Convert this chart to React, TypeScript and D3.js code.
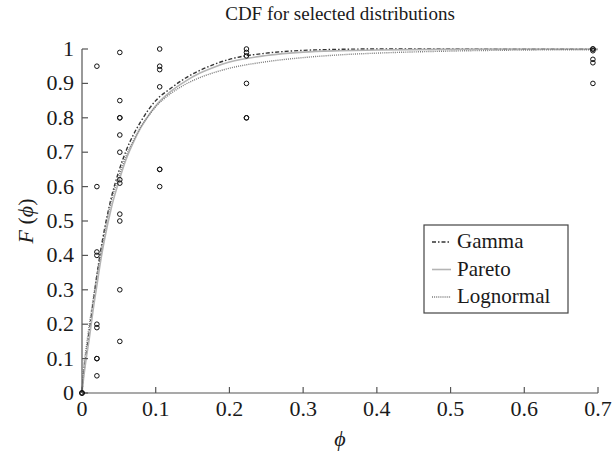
import { useEffect, useRef } from "react";
import * as d3 from "d3";

const W = 614, H = 453;
const M = { left: 82, right: 16, top: 49, bottom: 60 };

const X_TICKS = [0, 0.1, 0.2, 0.3, 0.4, 0.5, 0.6, 0.7];
const Y_TICKS = [0, 0.1, 0.2, 0.3, 0.4, 0.5, 0.6, 0.7, 0.8, 0.9, 1];

// observed points (phi, F)
const OBS_X = [0, 0.0202, 0.0513, 0.1054, 0.2231, 0.6931];
const OBS_Y = [
  [0, 0, 0],
  [0.95, 0.6, 0.41, 0.4, 0.2, 0.19, 0.1, 0.1, 0.05],
  [0.99, 0.85, 0.8, 0.8, 0.75, 0.7, 0.62, 0.61, 0.52, 0.5, 0.3, 0.15],
  [1.0, 0.95, 0.94, 0.89, 0.65, 0.65, 0.6],
  [1.0, 0.99, 0.98, 0.9, 0.8, 0.8],
  [1.0, 1.0, 0.995, 0.97, 0.96, 0.9],
];

// fitted CDFs
const GRID = [0, 0.002, 0.005, 0.01, 0.015, 0.02, 0.025, 0.03, 0.04, 0.05, 0.06, 0.07, 0.08, 0.09, 0.1, 0.12, 0.14, 0.16, 0.18, 0.2, 0.25, 0.3, 0.35, 0.4, 0.5, 0.6, 0.7];
const GAMMA = [0, 0.05, 0.1, 0.18, 0.26, 0.34, 0.41, 0.47, 0.57, 0.645, 0.705, 0.752, 0.79, 0.823, 0.85, 0.885, 0.915, 0.938, 0.956, 0.97, 0.988, 0.996, 0.999, 1, 1, 1, 1];
const PARETO = [0, 0.04, 0.09, 0.16, 0.24, 0.31, 0.38, 0.44, 0.54, 0.615, 0.68, 0.73, 0.772, 0.806, 0.835, 0.876, 0.906, 0.93, 0.948, 0.962, 0.981, 0.991, 0.995, 0.997, 0.999, 1, 1];
const LOGNORMAL = [0, 0.07, 0.12, 0.2, 0.27, 0.34, 0.4, 0.46, 0.56, 0.63, 0.69, 0.735, 0.775, 0.805, 0.832, 0.87, 0.897, 0.917, 0.932, 0.944, 0.963, 0.975, 0.983, 0.988, 0.994, 0.997, 0.998];

const SERIES = [
  { name: "Gamma", values: GAMMA, color: "#333", dash: "4,2,1.5,2", width: 1.4 },
  { name: "Pareto", values: PARETO, color: "#b4b4b4", dash: "", width: 1.6 },
  { name: "Lognormal", values: LOGNORMAL, color: "#7a7a7a", dash: "1,1.1", width: 1.4 },
];

const FONT = "Liberation Serif, Times New Roman, DejaVu Serif, serif";

export default function App() {
  const ref = useRef<SVGSVGElement>(null);
  useEffect(() => {
    const el = ref.current;
    if (!el) return;
    const svg = d3.select(el);
    svg.selectAll("*").remove();
    const x = d3.scaleLinear().domain([0, 0.7]).range([M.left, W - M.right]);
    const y = d3.scaleLinear().domain([0, 1]).range([H - M.bottom, M.top]);
    const axisColor = "#555";
    const txt = (sel: d3.Selection<SVGTextElement, unknown, null, undefined>, size: number) =>
      sel.style("font-family", FONT).style("font-size", `${size}px`).attr("fill", "#1a1a1a");

    // curves
    SERIES.forEach((s) => {
      const line = d3.line<number>().x((_d, i) => x(GRID[i])).y((d) => y(d)).curve(d3.curveMonotoneX);
      svg.append("path").attr("d", line(s.values)).attr("fill", "none").attr("stroke", s.color)
        .attr("stroke-width", s.width).attr("stroke-dasharray", s.dash || null);
    });

    // axes
    svg.append("line").attr("x1", x(0)).attr("x2", x(0.7)).attr("y1", y(0)).attr("y2", y(0)).attr("stroke", axisColor).attr("stroke-width", 1.2);
    svg.append("line").attr("x1", x(0)).attr("x2", x(0)).attr("y1", y(0)).attr("y2", y(1)).attr("stroke", axisColor).attr("stroke-width", 1.2);
    X_TICKS.forEach((t) => {
      svg.append("line").attr("x1", x(t)).attr("x2", x(t)).attr("y1", y(0)).attr("y2", y(0) - 6).attr("stroke", axisColor).attr("stroke-width", 1.2);
      txt(svg.append("text").attr("x", x(t)).attr("y", y(0) + 23).attr("text-anchor", "middle"), 22).text(String(t));
    });
    Y_TICKS.forEach((t) => {
      svg.append("line").attr("x1", x(0)).attr("x2", x(0) + 6).attr("y1", y(t)).attr("y2", y(t)).attr("stroke", axisColor).attr("stroke-width", 1.2);
      txt(svg.append("text").attr("x", x(0) - 8).attr("y", y(t) + 7).attr("text-anchor", "end"), 22).text(String(t));
    });

    // observations
    OBS_X.forEach((px, i) => {
      OBS_Y[i].forEach((py) => {
        svg.append("circle").attr("cx", x(px)).attr("cy", y(py)).attr("r", 2.3).attr("fill", "none").attr("stroke", "#111").attr("stroke-width", 1);
      });
    });

    // title and labels
    txt(svg.append("text").attr("x", (x(0) + x(0.7)) / 2).attr("y", 20).attr("text-anchor", "middle"), 19).text("CDF for selected distributions");
    txt(svg.append("text").attr("x", (x(0) + x(0.7)) / 2).attr("y", 446).attr("text-anchor", "middle").style("font-style", "italic"), 22).text("ϕ");
    const yl = txt(svg.append("text").attr("transform", `translate(33,${(y(0) + y(1)) / 2}) rotate(-90)`).attr("text-anchor", "middle"), 22);
    yl.append("tspan").style("font-style", "italic").text("F");
    yl.append("tspan").text(" (");
    yl.append("tspan").style("font-style", "italic").text("ϕ");
    yl.append("tspan").text(")");

    // legend
    const lx = 424, ly = 225, lw = 144, lh = 88;
    svg.append("rect").attr("x", lx).attr("y", ly).attr("width", lw).attr("height", lh).attr("fill", "#fff").attr("stroke", "#444").attr("stroke-width", 1.2);
    SERIES.forEach((s, i) => {
      const cy = ly + 17 + i * 27.5;
      svg.append("line").attr("x1", lx + 8).attr("x2", lx + 27).attr("y1", cy).attr("y2", cy).attr("stroke", s.color)
        .attr("stroke-width", s.width).attr("stroke-dasharray", s.dash || null);
      txt(svg.append("text").attr("x", lx + 33).attr("y", cy + 6), 21).text(s.name);
    });
  }, []);
  return <svg ref={ref} width={W} height={H} style={{ position: "absolute", left: 0, top: 0, background: "#fff" }} />;
}
